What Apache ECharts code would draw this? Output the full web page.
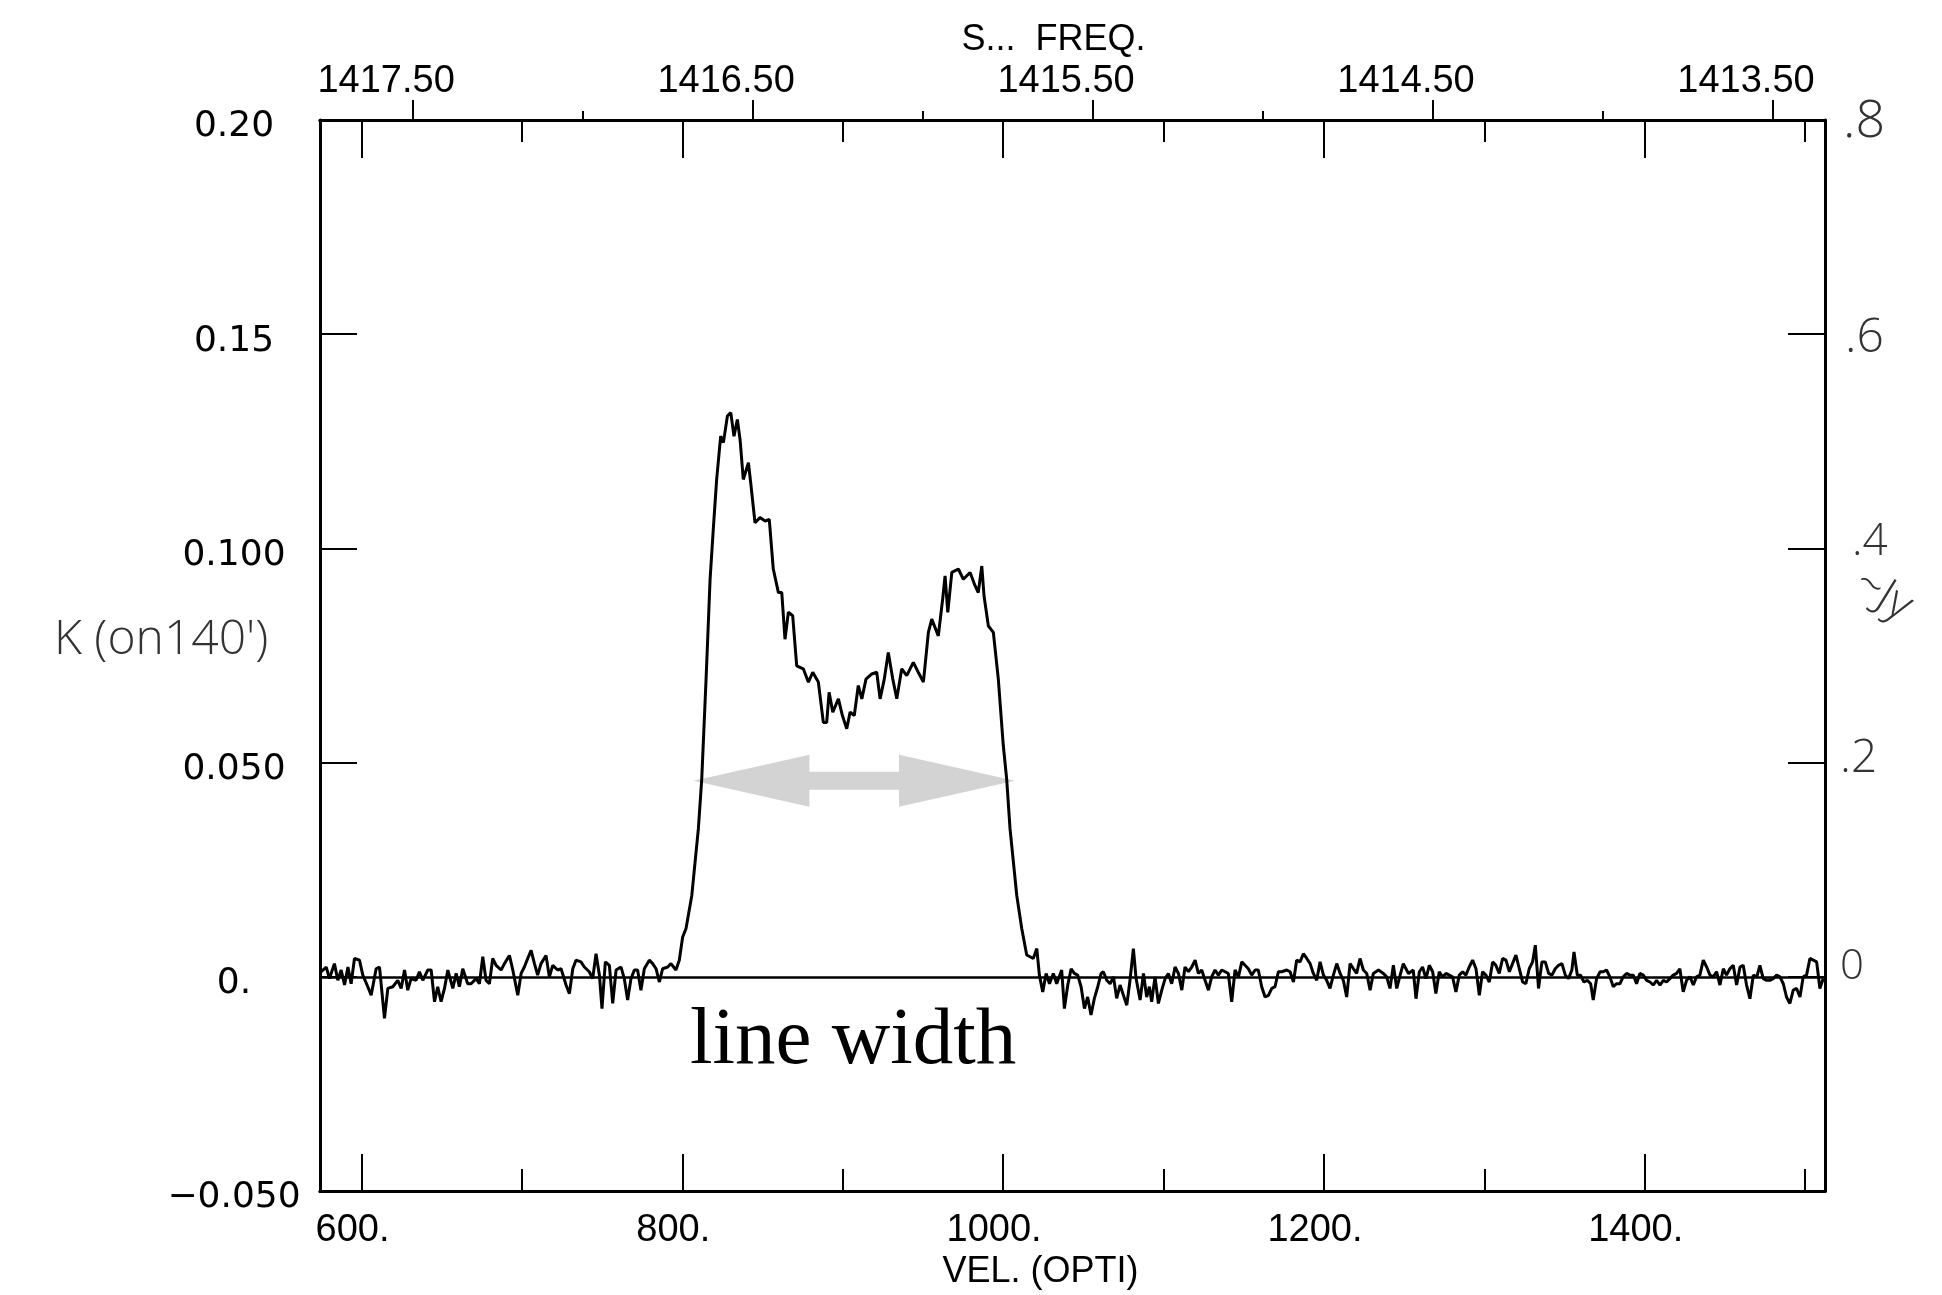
<!DOCTYPE html>
<html>
<head>
<meta charset="utf-8">
<style>
  html, body { margin: 0; padding: 0; background: #ffffff; }
  #chart { width: 1942px; height: 1295px; }
</style>
<script src="https://cdn.jsdelivr.net/npm/echarts@6/dist/echarts.min.js"></script>
</head>
<body>
<div id="chart"></div>
<script>
// ---------------- data ----------------
// optical velocity (km/s) of each sampled point of the spectrum
const velocityKms = [
  574.1, 575.9, 578.0, 580.0, 583.1, 585.2, 587.3, 589.4, 591.5, 593.5,
  595.6, 598.7, 600.8, 603.9, 606.0, 609.1, 611.2, 614.3, 616.4, 619.5,
  622.6, 624.7, 626.8, 628.8, 630.9, 634.0, 636.1, 638.2, 641.3, 643.4,
  645.5, 647.5, 649.6, 651.7, 653.8, 656.9, 659.0, 661.0, 663.1, 666.2,
  668.3, 671.4, 673.5, 675.6, 677.6, 679.7, 681.8, 683.9, 687.0, 689.1,
  692.2, 694.3, 697.4, 699.5, 701.5, 703.6, 705.7, 707.8, 709.8, 711.9,
  715.0, 717.1, 719.2, 722.3, 724.4, 727.5, 729.6, 731.7, 733.7, 736.8,
  738.9, 742.0, 744.1, 746.2, 748.3, 749.9, 752.0, 754.5, 756.6, 758.7,
  761.8, 763.8, 765.9, 768.0, 770.1, 772.1, 774.2, 776.3, 779.4, 781.5,
  783.6, 785.7, 787.7, 790.9, 792.9, 796.0, 798.1, 800.2, 802.3, 805.9,
  810.0, 812.1, 814.8, 817.3, 819.3, 821.4, 823.9, 825.6, 828.1, 830.2,
  832.2, 834.3, 836.0, 838.0, 841.2, 842.6, 845.3, 848.4, 851.6, 854.2,
  856.7, 859.9, 862.0, 864.0, 866.1, 868.8, 871.3, 875.4, 878.6, 881.3,
  884.8, 887.9, 890.0, 891.5, 893.8, 897.3, 899.8, 902.5, 904.6, 907.2,
  909.7, 911.9, 914.5, 918.1, 921.2, 923.3, 925.9, 928.4, 931.2, 933.7,
  936.8, 939.9, 944.0, 947.1, 950.3, 953.4, 955.5, 959.6, 962.3, 963.8,
  965.5, 968.0, 972.1, 975.2, 979.4, 982.5, 984.5, 986.7, 988.1, 990.8,
  993.9, 997.0, 1000.1, 1002.2, 1004.3, 1008.5, 1011.6, 1014.7, 1018.8, 1021.0,
  1022.6, 1024.7, 1026.8, 1028.9, 1031.3, 1033.4, 1036.5, 1038.2, 1040.3, 1042.4,
  1044.4, 1046.5, 1048.6, 1050.7, 1052.7, 1054.8, 1056.9, 1059.0, 1061.1, 1062.5,
  1064.6, 1066.7, 1068.8, 1070.8, 1072.9, 1075.0, 1077.1, 1079.1, 1081.2, 1082.9,
  1085.4, 1087.5, 1089.5, 1091.2, 1092.6, 1094.7, 1096.8, 1098.9, 1101.0, 1103.0,
  1105.1, 1107.2, 1109.3, 1111.4, 1113.4, 1115.5, 1117.6, 1119.7, 1121.7, 1123.8,
  1125.9, 1128.0, 1130.0, 1132.1, 1134.2, 1136.3, 1138.4, 1140.4, 1142.5, 1144.6,
  1146.7, 1148.8, 1150.8, 1152.9, 1155.0, 1157.1, 1159.1, 1161.2, 1163.3, 1165.4,
  1167.5, 1169.5, 1171.6, 1173.7, 1176.8, 1178.9, 1181.0, 1183.0, 1185.1, 1187.2,
  1189.3, 1191.4, 1193.4, 1195.5, 1197.6, 1199.7, 1201.7, 1203.8, 1205.9, 1208.0,
  1210.1, 1212.1, 1214.2, 1216.3, 1218.4, 1220.4, 1222.5, 1224.6, 1226.7, 1228.8,
  1230.8, 1234.0, 1237.1, 1239.1, 1241.2, 1243.3, 1245.4, 1247.5, 1249.5, 1252.7,
  1255.7, 1257.4, 1259.5, 1261.5, 1263.6, 1265.7, 1267.8, 1269.8, 1271.9, 1274.0,
  1276.1, 1278.2, 1280.2, 1282.3, 1284.4, 1286.5, 1288.5, 1290.6, 1292.7, 1294.8,
  1296.9, 1298.9, 1301.0, 1303.1, 1305.2, 1307.2, 1309.3, 1311.4, 1313.5, 1315.6,
  1317.6, 1319.7, 1321.8, 1323.9, 1325.9, 1328.0, 1330.1, 1331.8, 1333.8, 1335.9,
  1338.0, 1340.1, 1342.2, 1344.2, 1346.3, 1348.4, 1350.5, 1352.5, 1354.6, 1355.9,
  1358.0, 1360.0, 1362.1, 1364.2, 1366.3, 1367.9, 1370.0, 1372.2, 1374.2, 1376.2,
  1378.3, 1380.4, 1382.5, 1384.5, 1386.6, 1388.7, 1390.8, 1392.9, 1394.9, 1397.0,
  1399.1, 1401.2, 1403.3, 1405.3, 1407.4, 1409.5, 1411.6, 1413.6, 1415.7, 1417.8,
  1419.9, 1421.9, 1424.0, 1426.1, 1428.2, 1430.3, 1432.3, 1434.4, 1436.5, 1438.6,
  1440.7, 1442.7, 1444.8, 1446.9, 1449.0, 1451.0, 1453.1, 1455.2, 1457.3, 1459.4,
  1461.4, 1463.5, 1465.6, 1467.7, 1469.9, 1471.8, 1473.9, 1476.0, 1478.1, 1480.1,
  1482.2, 1484.3, 1486.4, 1488.4, 1490.5, 1492.6, 1494.7, 1496.8, 1498.8, 1500.9,
  1503.0, 1505.1, 1507.2, 1509.2, 1511.3
];
// antenna temperature (K) at each of those velocities
const antennaTempK = [
  0.0010, 0.0016, 0.0023, -0.0004, 0.0031, -0.0008, 0.0016, -0.0019, 0.0023, -0.0016,
  0.0043, 0.0039, 0.0004, -0.0023, -0.0043, 0.0019, 0.0023, -0.0097, -0.0027, -0.0023,
  -0.0008, -0.0027, 0.0016, -0.0031, -0.0004, -0.0008, 0.0012, -0.0008, 0.0016, 0.0016,
  -0.0058, -0.0023, -0.0058, -0.0027, 0.0016, -0.0027, 0.0008, -0.0023, 0.0019, -0.0016,
  -0.0016, -0.0004, -0.0016, 0.0047, -0.0008, -0.0016, 0.0043, 0.0027, 0.0016, 0.0031,
  0.0050, 0.0016, -0.0043, 0.0008, 0.0023, 0.0043, 0.0062, 0.0031, 0.0004, 0.0031,
  0.0050, 0.0000, 0.0027, 0.0016, 0.0019, -0.0019, -0.0039, 0.0019, 0.0039, 0.0035,
  0.0023, 0.0012, -0.0004, 0.0054, 0.0004, -0.0074, 0.0035, 0.0027, -0.0062, 0.0016,
  0.0023, -0.0004, -0.0054, -0.0004, 0.0016, 0.0016, -0.0031, 0.0019, 0.0039, 0.0031,
  0.0019, -0.0012, 0.0019, 0.0023, 0.0031, 0.0016, 0.0039, 0.0093, 0.0113, 0.0190,
  0.0346, 0.0462, 0.0695, 0.0928, 0.1045, 0.1161, 0.1262, 0.1247, 0.1309, 0.1317,
  0.1262, 0.1301, 0.1254, 0.1161, 0.1200, 0.1154, 0.1060, 0.1072, 0.1064, 0.1068,
  0.0952, 0.0897, 0.0897, 0.0788, 0.0851, 0.0843, 0.0726, 0.0719, 0.0688, 0.0711,
  0.0688, 0.0594, 0.0594, 0.0664, 0.0618, 0.0649, 0.0610, 0.0579, 0.0618, 0.0610,
  0.0680, 0.0649, 0.0695, 0.0707, 0.0711, 0.0649, 0.0695, 0.0757, 0.0695, 0.0649,
  0.0719, 0.0703, 0.0734, 0.0711, 0.0688, 0.0804, 0.0835, 0.0796, 0.0882, 0.0936,
  0.0851, 0.0944, 0.0952, 0.0928, 0.0944, 0.0913, 0.0897, 0.0959, 0.0889, 0.0819,
  0.0804, 0.0695, 0.0540, 0.0462, 0.0346, 0.0190, 0.0113, 0.0051, 0.0043, 0.0066,
  0.0004, -0.0035, 0.0008, -0.0016, 0.0008, -0.0016, 0.0016, -0.0074, -0.0019, 0.0019,
  0.0008, 0.0004, -0.0023, -0.0074, -0.0047, -0.0089, -0.0050, -0.0023, 0.0008, 0.0012,
  -0.0008, -0.0016, 0.0000, -0.0050, -0.0019, -0.0043, -0.0066, -0.0008, 0.0066, -0.0004,
  -0.0054, 0.0008, -0.0047, -0.0023, -0.0058, 0.0000, -0.0062, -0.0031, -0.0004, 0.0008,
  -0.0016, 0.0023, 0.0008, -0.0031, 0.0023, 0.0012, 0.0023, 0.0039, 0.0008, 0.0016,
  -0.0008, -0.0031, 0.0000, 0.0016, 0.0004, 0.0016, 0.0012, 0.0008, -0.0058, 0.0016,
  0.0000, 0.0035, 0.0027, 0.0019, 0.0004, 0.0016, 0.0016, -0.0023, -0.0047, -0.0043,
  -0.0027, -0.0023, 0.0012, 0.0012, 0.0016, 0.0012, -0.0012, 0.0039, 0.0035, 0.0054,
  0.0043, 0.0031, 0.0008, -0.0008, 0.0035, 0.0004, -0.0008, -0.0027, 0.0004, 0.0031,
  0.0008, -0.0008, -0.0047, 0.0031, 0.0019, 0.0008, 0.0043, 0.0016, 0.0008, -0.0031,
  0.0008, 0.0016, 0.0008, 0.0000, -0.0027, 0.0027, -0.0027, 0.0004, 0.0031, 0.0008,
  0.0016, -0.0051, 0.0012, 0.0023, -0.0004, 0.0027, 0.0012, -0.0039, 0.0012, 0.0000,
  0.0008, 0.0004, 0.0000, -0.0035, 0.0004, 0.0012, 0.0004, 0.0023, 0.0039, 0.0019,
  -0.0043, 0.0012, 0.0004, -0.0012, 0.0035, 0.0027, 0.0008, 0.0043, 0.0039, 0.0012,
  0.0031, 0.0051, 0.0019, -0.0012, -0.0016, 0.0019, 0.0035, 0.0074, -0.0027, 0.0035,
  0.0035, 0.0008, 0.0004, 0.0019, 0.0027, 0.0031, 0.0004, -0.0004, 0.0016, 0.0058,
  0.0004, 0.0004, -0.0012, -0.0008, -0.0016, -0.0054, -0.0004, 0.0012, 0.0012, 0.0016,
  0.0000, -0.0023, -0.0016, -0.0016, 0.0000, 0.0008, 0.0004, 0.0004, -0.0016, 0.0008,
  0.0004, -0.0008, -0.0012, -0.0019, -0.0008, -0.0019, -0.0008, -0.0012, -0.0004, 0.0004,
  0.0008, 0.0019, -0.0035, -0.0008, 0.0000, -0.0019, 0.0000, 0.0004, 0.0039, 0.0023,
  0.0004, 0.0000, 0.0012, -0.0019, 0.0019, 0.0004, 0.0019, 0.0027, -0.0019, 0.0023,
  0.0027, -0.0019, -0.0051, 0.0004, 0.0000, 0.0027, -0.0004, -0.0008, -0.0008, -0.0004,
  0.0004, 0.0000, -0.0016, -0.0047, -0.0062, -0.0031, -0.0027, -0.0047, 0.0000, 0.0004,
  0.0043, 0.0039, 0.0035, -0.0027, -0.0004
];

// axis extents and tick labels
const velRange = [574.1, 1512.4];
const freqRange = [1413.347, 1417.774];          // MHz, decreasing to the right
const velMajorTicks = [600, 800, 1000, 1200, 1400];
const velMinorTicks = [700, 900, 1100, 1300, 1500];
const freqMajorTicks = [1413.5, 1414.5, 1415.5, 1416.5, 1417.5];
const freqMinorTicks = [1414, 1415, 1416, 1417];
const kTickValues = [-0.05, 0, 0.05, 0.10, 0.15, 0.20];
const kTickLabels = ['\u22120.050', '0.', '0.050', '0.100', '0.15', '0.20'];
// line-width arrow: [velocity start, velocity end, level K]
const arrowSpan = [806.9, 1007.4, 0.0458];

// ------------------------------------------------------------------------
const spectrum = velocityKms.map((v, i) => [v, antennaTempK[i]]);

const chart = echarts.init(document.getElementById('chart'), null, { renderer: 'canvas' });

const black = '#000000';
const axisFont = 'Liberation Sans, Arial, sans-serif';
const handFont = "'DejaVu Sans ExtraLight', 'Open Sans', 'DejaVu Sans', sans-serif";
const handColor = '#333333';

function velAxis(pos, ticks, len, withLabels) {
  return {
    type: 'value', position: pos, min: velRange[0], max: velRange[1],
    splitLine: { show: false },
    axisLine: { show: true, onZero: false, lineStyle: { color: black, width: 3 } },
    axisTick: { show: true, inside: true, length: len, customValues: ticks, lineStyle: { color: black, width: 2 } },
    axisLabel: withLabels ? {
      show: true, customValues: ticks, color: black, fontFamily: axisFont, fontSize: 38,
      margin: 20, padding: [0, 18, 0, 0], formatter: v => String(v) + '.'
    } : { show: false },
    name: withLabels ? 'VEL. (OPTI)' : '',
    nameLocation: 'middle', nameGap: 61,
    nameTextStyle: { color: black, fontFamily: axisFont, fontSize: 36, padding: [0, 64, 0, 0] }
  };
}
function freqAxis(ticks, len, withLabels) {
  return {
    type: 'value', position: 'top', min: freqRange[0], max: freqRange[1], inverse: true,
    splitLine: { show: false },
    axisLine: { show: false, onZero: false },
    axisTick: { show: true, inside: false, length: len, customValues: ticks, lineStyle: { color: black, width: 2 } },
    axisLabel: withLabels ? {
      show: true, customValues: ticks, color: black, fontFamily: axisFont, fontSize: 38,
      margin: 19, padding: [0, 54, 0, 0], formatter: v => v.toFixed(2)
    } : { show: false },
    name: withLabels ? 'S...  FREQ.' : '',
    nameLocation: 'middle', nameGap: 61,
    nameTextStyle: { color: black, fontFamily: axisFont, fontSize: 36, padding: [0, 38, 0, 0] }
  };
}
function kAxis(pos, withLabels) {
  return {
    type: 'value', position: pos, min: -0.05, max: 0.20, interval: 0.05,
    splitLine: { show: false },
    axisLine: { show: true, onZero: false, lineStyle: { color: black, width: 3 } },
    axisTick: { show: true, inside: true, length: 37, lineStyle: { color: black, width: 2 } },
    axisLabel: withLabels ? {
      show: true, color: black, fontFamily: 'DejaVu Sans, sans-serif', fontSize: 36,
      align: 'center', verticalAlign: 'top', lineHeight: 14, margin: 86,
      formatter: v => {
        const i = kTickValues.findIndex(t => Math.abs(t - v) < 1e-9);
        return i >= 0 ? kTickLabels[i] : '';
      }
    } : { show: false }
  };
}

const option = {
  backgroundColor: '#ffffff',
  animation: false,
  grid: { left: 320, right: 117, top: 120, bottom: 102, containLabel: false },
  xAxis: [
    velAxis('bottom', velMajorTicks, 37, true),
    velAxis('bottom', velMinorTicks, 22, false),
    velAxis('top', velMajorTicks, 38, false),
    velAxis('top', velMinorTicks, 22, false),
    freqAxis(freqMajorTicks, 20, true),
    freqAxis(freqMinorTicks, 9, false)
  ],
  yAxis: [kAxis('left', true), kAxis('right', false)],
  series: [
    {
      type: 'line', xAxisIndex: 0, yAxisIndex: 0, data: spectrum,
      showSymbol: false, symbol: 'none', smooth: false, clip: true,
      lineStyle: { color: black, width: 3 },
      markLine: {
        silent: true, symbol: 'none', label: { show: false },
        lineStyle: { color: black, width: 2.5, type: 'solid' },
        data: [{ yAxis: 0 }]
      },
      z: 3
    },
    {
      type: 'custom', xAxisIndex: 0, yAxisIndex: 0,
      data: [arrowSpan],
      renderItem: function (params, api) {
        const p0 = api.coord([api.value(0), api.value(2)]);
        const p1 = api.coord([api.value(1), api.value(2)]);
        const headLen = 116, headHalf = 26, shaftHalf = 9;
        const y = p0[1];
        const pts = [
          [p0[0], y],
          [p0[0] + headLen, y - headHalf],
          [p0[0] + headLen, y - shaftHalf],
          [p1[0] - headLen, y - shaftHalf],
          [p1[0] - headLen, y - headHalf],
          [p1[0], y],
          [p1[0] - headLen, y + headHalf],
          [p1[0] - headLen, y + shaftHalf],
          [p0[0] + headLen, y + shaftHalf],
          [p0[0] + headLen, y + headHalf]
        ];
        return { type: 'polygon', shape: { points: pts }, style: { fill: '#d3d3d3' }, z2: 1 };
      },
      z: 2, silent: true
    }
  ],
  graphic: [
    { type: 'text', left: 690, top: 1001, style: { text: 'line width', fill: black, font: '81px "Liberation Serif", "DejaVu Serif", serif' } },
    { type: 'text', left: 54, top: 616, style: { text: "K (on140')", fill: handColor, font: '300 48px ' + handFont } },
    { type: 'text', left: 1843, top: 96, style: { text: '.8', fill: handColor, font: '300 52px ' + handFont } },
    { type: 'text', left: 1845, top: 314, style: { text: '.6', fill: handColor, font: '300 48px ' + handFont } },
    { type: 'text', left: 1852, top: 520, style: { text: '.4', fill: handColor, font: '300 44px ' + handFont } },
    { type: 'text', left: 1846, top: 560, rotation: -0.55, style: { text: '~Jy', fill: handColor, font: '300 46px ' + handFont } },
    { type: 'text', left: 1840, top: 736, style: { text: '.2', fill: handColor, font: '300 46px ' + handFont } },
    { type: 'text', left: 1840, top: 946, style: { text: '0', fill: handColor, font: '300 42px ' + handFont } }
  ]
};

chart.setOption(option);
</script>
</body>
</html>
